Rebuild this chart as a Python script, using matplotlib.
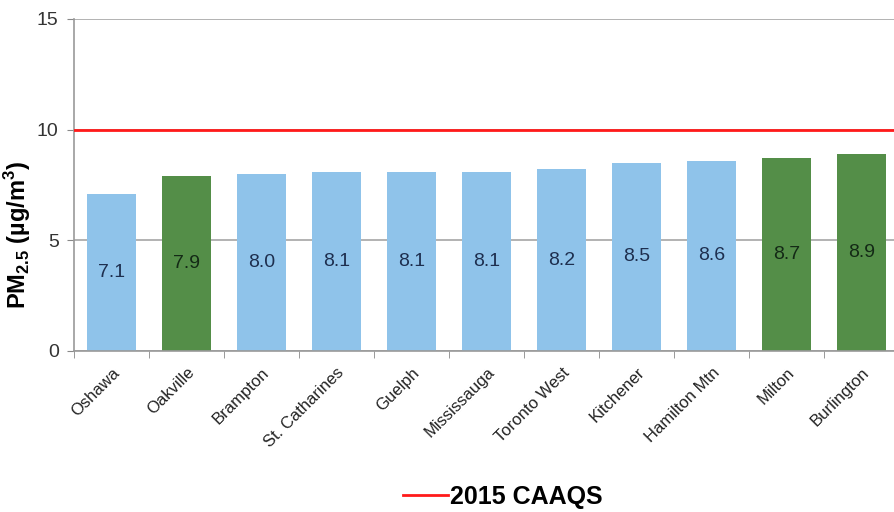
import numpy as np
import matplotlib
matplotlib.use("Agg")
import matplotlib.pyplot as plt
from matplotlib.lines import Line2D

plt.rcParams["font.family"] = ["Liberation Sans", "DejaVu Sans"]
plt.rcParams["mathtext.fontset"] = "custom"
plt.rcParams["mathtext.rm"] = "Liberation Sans"
plt.rcParams["mathtext.bf"] = "Liberation Sans:bold"

# ------------------------------------------------------------------ data
stations = ["Oshawa", "Oakville", "Brampton", "St. Catharines", "Guelph",
            "Mississauga", "Toronto West", "Kitchener", "Hamilton Mtn",
            "Milton", "Burlington"]
pm25 = [7.1, 7.9, 8.0, 8.1, 8.1, 8.1, 8.2, 8.5, 8.6, 8.7, 8.9]
highlight = [False, True, False, False, False, False, False, False, False,
             True, True]
caaqs_2015 = 10

BLUE = "#8fc3ea"
GREEN = "#548e48"

# ---------------------------------------------------------------- figure
fig = plt.figure(figsize=(8.95, 5.12), dpi=100)
ax = fig.add_axes([0.0827, 0.3145, 0.922, 0.6484])

x = np.arange(len(stations))
colors = [GREEN if h else BLUE for h in highlight]
ax.bar(x, pm25, width=0.66, color=colors, zorder=2)

for xi, v, h in zip(x, pm25, highlight):
    ax.text(xi, v / 2, f"{v:.1f}", ha="center", va="center", fontsize=14,
            color="#142a16" if h else "#1e2f4f", zorder=3)

ax.axhline(caaqs_2015, color="#ff1a1a", lw=2, zorder=3)

ax.set_xlim(-0.5, len(stations) - 0.5)
ax.set_ylim(0, 15)
ax.set_yticks([0, 5, 10, 15])
ax.yaxis.grid(True, color="#a6a6a6", lw=1.2, zorder=0)
ax.tick_params(axis="y", labelsize=14, length=5, pad=6, color="#888888",
               labelcolor="#333333")

ax.set_xticks(x)
ax.set_xticklabels(stations, rotation=45, ha="right", rotation_mode="anchor",
                   fontsize=12, color="#222222")
ax.tick_params(axis="x", which="major", length=0, pad=10)
ax.set_xticks(np.arange(-0.5, len(stations)), minor=True)
ax.tick_params(axis="x", which="minor", length=5, color="#888888")

for s in ("top", "right"):
    ax.spines[s].set_visible(False)
for s in ("left", "bottom"):
    ax.spines[s].set_color("#999999")
    ax.spines[s].set_linewidth(1.2)

ax.set_ylabel(r"PM$_{\mathbf{2.5}}$ (µg/m$^\mathbf{3}$)", fontsize=17,
              fontweight="bold")
ax.yaxis.set_label_coords(-0.05, 0.35)

handle = Line2D([], [], color="#ff1a1a", lw=2)
leg = fig.legend([handle], ["2015 CAAQS"], loc="center",
                 bbox_to_anchor=(0.562, 0.029), frameon=False,
                 prop={"size": 18, "weight": "bold"}, handlelength=1.8,
                 handletextpad=0.1)

fig.savefig("out.png", dpi=100)
